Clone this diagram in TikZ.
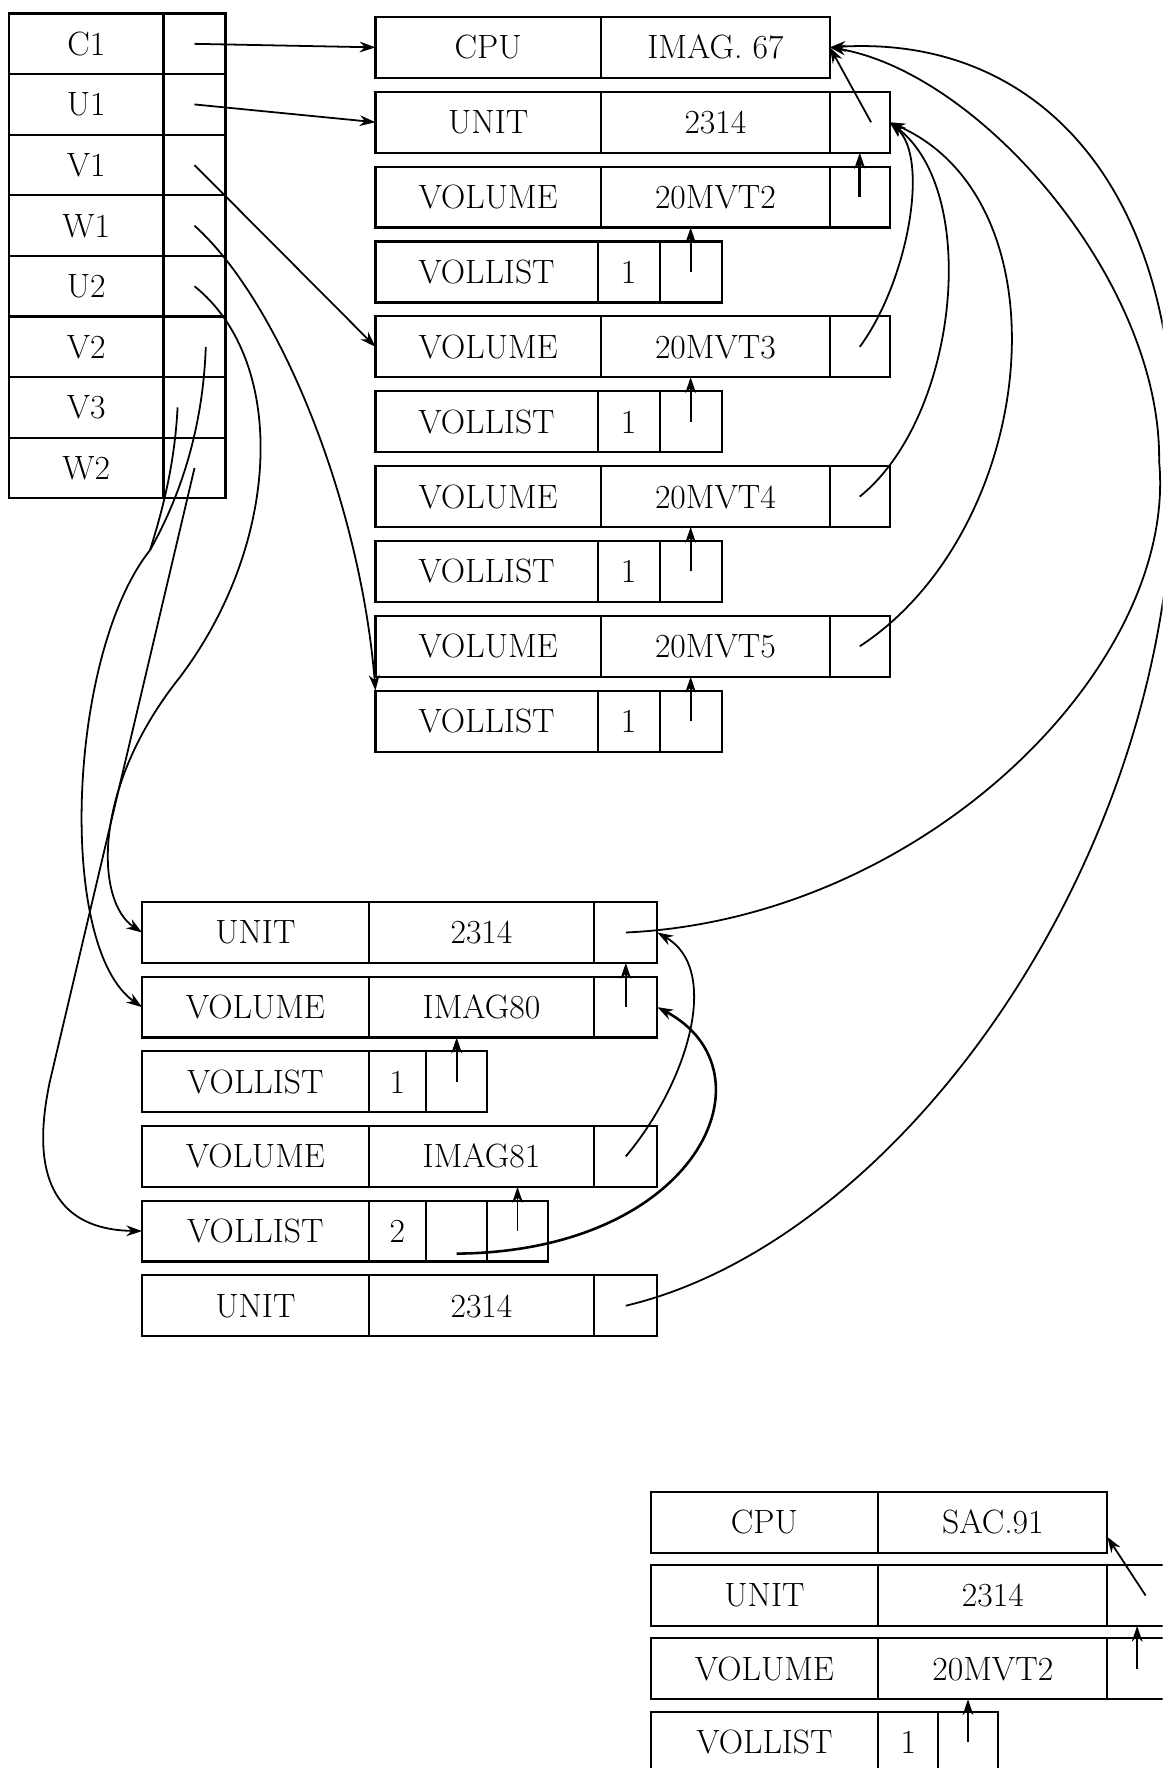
\documentclass[tikz,border=0pt]{standalone}
\usepackage{fontspec}
\usepackage{tikz}
\usetikzlibrary{arrows.meta,positioning}
\newcommand{\cellfont}{\fontsize{17}{20}\selectfont\addfontfeatures{LetterSpace=4,FakeBold=1.5}}
\tikzset{
  cell/.style={draw,line width=1.1pt,minimum height=10.8mm,inner sep=0pt,outer sep=0pt,font=\cellfont,text height=11.6pt,text depth=0pt},
  wd/.style={minimum width=#1*0.2mm},
  link/.style={-{Stealth[length=2.8mm,width=1.9mm]},line width=0.9pt},
  mergeline/.style={line width=0.9pt}
}

\begin{document}
\begin{tikzpicture}[x=0.2mm,y=-0.2mm]
\useasboundingbox (0,0) rectangle (1031,1568);
\clip (0,0) rectangle (1031,1568);
% directory
\foreach \lab [count=\i] in {C1,U1,V1,W1,U2,V2,V3,W2}{
  \node[cell,wd=137,minimum height=10.75mm,anchor=north west] (tn\i) at (8,{12+53.75*(\i-1)}) {\lab};
  \node[cell,wd=55,minimum height=10.75mm,right=0pt of tn\i] (tp\i) {};
}
% catalogue IMAG.67
\node[cell,wd=200,anchor=north west] (cpuA) at (333,15) {CPU};
\node[cell,wd=203,right=0pt of cpuA] (imagA) {IMAG.~67};
\node[cell,wd=200,anchor=north west] (unitA) at (333,81.4) {UNIT};
\node[cell,wd=203,right=0pt of unitA] (unitAv) {2314};
\node[cell,wd=53,right=0pt of unitAv] (unitAp) {};
\foreach \k [count=\i] in {2,...,5}{
  \node[cell,wd=200,anchor=north west] (vn\k) at (333,{15+66.4*(2*\i)}) {VOLUME};
  \node[cell,wd=203,right=0pt of vn\k] (vv\k) {20MVT\k};
  \node[cell,wd=53,right=0pt of vv\k] (vp\k) {};
  \node[cell,wd=197,anchor=north west] (ln\k) at (333,{15+66.4*(2*\i+1)}) {VOLLIST};
  \node[cell,wd=55,right=0pt of ln\k] (lc\k) {1};
  \node[cell,wd=55,right=0pt of lc\k] (lp\k) {};
  \draw[link] (lp\k.center) -- (lp\k.center |- vv\k.south);
}
\draw[link,line width=1.6pt] (vp2.center) -- (vp2.center |- unitAp.south);
\draw[link] ([xshift=2mm]unitAp.center) -- (imagA.east);
\draw[link] (vp3.center) .. controls (805,250) and (825,140) .. (unitAp.east);
\draw[link] (vp4.center) .. controls (850,370) and (870,170) .. (unitAp.east);
\draw[link] (vp5.center) .. controls (920,470) and (950,180) .. (unitAp.east);
% catalogue IMAG80/81
\node[cell,wd=201,anchor=north west] (unitB1) at (126,800) {UNIT};
\node[cell,wd=200,right=0pt of unitB1] (unitB1v) {2314};
\node[cell,wd=56,right=0pt of unitB1v] (unitB1p) {};
\node[cell,wd=201,anchor=north west] (volB1) at (126,866.2) {VOLUME};
\node[cell,wd=200,right=0pt of volB1] (volB1v) {IMAG80};
\node[cell,wd=56,right=0pt of volB1v] (volB1p) {};
\node[cell,wd=201,anchor=north west] (listB1) at (126,932.4) {VOLLIST};
\node[cell,wd=51,right=0pt of listB1] (listB1c) {1};
\node[cell,wd=54,right=0pt of listB1c] (listB1p) {};
\node[cell,wd=201,anchor=north west] (volB2) at (126,998.6) {VOLUME};
\node[cell,wd=200,right=0pt of volB2] (volB2v) {IMAG81};
\node[cell,wd=56,right=0pt of volB2v] (volB2p) {};
\node[cell,wd=201,anchor=north west] (listB2) at (126,1064.8) {VOLLIST};
\node[cell,wd=51,right=0pt of listB2] (listB2c) {2};
\node[cell,wd=54,right=0pt of listB2c] (listB2m) {};
\node[cell,wd=54,right=0pt of listB2m] (listB2p) {};
\node[cell,wd=201,anchor=north west] (unitB2) at (126,1131) {UNIT};
\node[cell,wd=200,right=0pt of unitB2] (unitB2v) {2314};
\node[cell,wd=56,right=0pt of unitB2v] (unitB2p) {};
\draw[link] (volB1p.center) -- (volB1p.center |- unitB1p.south);
\draw[link] (listB1p.center) -- (listB1p.center |- volB1v.south);
\draw[link] (listB2p.center) -- (listB2p.center |- volB2v.south);
\draw[link] (volB2p.center) .. controls (610,960) and (640,860) .. (unitB1p.east);
\draw[link,line width=1.3pt] ([yshift=-4mm]listB2m.center) .. controls (620,1110) and (690,950) .. (volB1p.east);
\draw[link] (unitB1p.center) .. controls (820,815) and (1045,590) .. (1028,409)
  .. controls (1030,250) and (870,65) .. (imagA.east);
\draw[link] (unitB2p.center) .. controls (800,1100) and (1040,760) .. (1040,420)
  .. controls (1050,180) and (930,30) .. (imagA.east);
% directory pointers
\draw[link] (tp1.center) -- (cpuA.west);
\draw[link] (tp2.center) -- (unitA.west);
\draw[link] (tp3.center) -- (vn3.west);
\draw[link] (tp4.center) .. controls (250,270) and (320,450) .. (ln5.north west);
\draw[link] (tp5.center) .. controls (255,320) and (250,480) .. (160,600)
  .. controls (80,700) and (85,800) .. (unitB1.west);
\coordinate (merge) at (133,488);
\draw[mergeline] ([xshift=2mm]tp6.center) .. controls (180,380) and (160,440) .. (merge);
\draw[mergeline] ([xshift=-3mm]tp7.center) .. controls (155,410) and (145,450) .. (merge);
\draw[link] (merge) .. controls (60,580) and (50,840) .. (volB1.west);
\draw[link] (tp8.center) -- (44,960) .. controls (37,995) and (20,1090) .. (listB2.west);
% catalogue SAC.91
\node[cell,wd=202,anchor=north west] (cpuC) at (577,1323) {CPU};
\node[cell,wd=203,right=0pt of cpuC] (sacC) {SAC.91};
\node[cell,wd=202,anchor=north west] (unitC) at (577,1388) {UNIT};
\node[cell,wd=203,right=0pt of unitC] (unitCv) {2314};
\node[cell,wd=53,right=0pt of unitCv] (unitCp) {};
\node[cell,wd=202,anchor=north west] (volC) at (577,1453) {VOLUME};
\node[cell,wd=203,right=0pt of volC] (volCv) {20MVT2};
\node[cell,wd=53,right=0pt of volCv] (volCp) {};
\node[cell,wd=202,anchor=north west] (listC) at (577,1518) {VOLLIST};
\node[cell,wd=53,right=0pt of listC] (listCc) {1};
\node[cell,wd=53,right=0pt of listCc] (listCp) {};
\draw[link] ([xshift=1.5mm]unitCp.center) -- ([yshift=-2.6mm]sacC.east);
\draw[link] (volCp.center) -- (volCp.center |- unitCp.south);
\draw[link] (listCp.center) -- (listCp.center |- volCv.south);
\end{tikzpicture}
\end{document}
